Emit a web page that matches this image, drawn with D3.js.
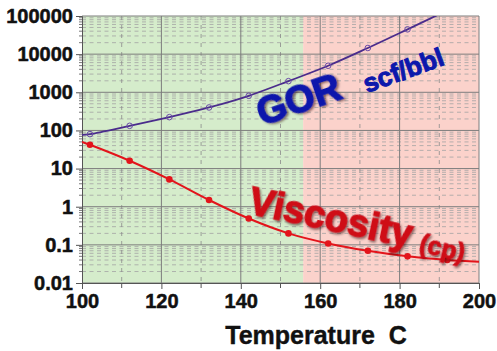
<!DOCTYPE html>
<html>
<head>
<meta charset="utf-8">
<script src="https://cdn.jsdelivr.net/npm/d3@7/dist/d3.min.js"></script>
<style>
  html, body { margin: 0; padding: 0; background: #fff; }
  svg { display: block; }
  text { font-family: "Liberation Sans", Arial, sans-serif; font-weight: bold; }
</style>
</head>
<body>
<svg id="chart" width="497" height="351"></svg>
<script>
// Temperatures (C) where the fitted curves are sampled; the end samples carry no marker
const curveTemps = [100, 102, 112, 122, 132, 142, 152, 162, 172, 182, 192, 200];
const markerTemps = [102, 112, 122, 132, 142, 152, 162, 172, 182, 192];

// Gas-oil ratio, scf/bbl
const gorValues = [76, 80, 132, 223, 400, 810, 1960, 4960, 14500, 44700, 140000];
// Viscosity, cp
const viscValues = [50, 42, 16, 5.2, 1.5, 0.49, 0.20, 0.109, 0.070, 0.050, 0.040, 0.036];

// Axis ticks
const xTicks = [100, 120, 140, 160, 180, 200];
const xMinorTicks = [110, 130, 150, 170, 190];
const yTicks = [0.01, 0.1, 1, 10, 100, 1000, 10000, 100000];
const yTickLabels = ["0.01", "0.1", "1", "10", "100", "1000", "10000", "100000"];

// Temperature windows shaded behind the curves
const zoneStarts = [100, 155.7];
const zoneEnds = [155.7, 200];
const zoneColors = ["#d5eccb", "#fbd2cb"];

const svg = d3.select("#chart");
const plotLeft = 82, plotRight = 479, plotTop = 16, plotBottom = 283;

const x = d3.scaleLinear().domain([100, 200]).range([plotLeft, plotRight]);
const y = d3.scaleLog().domain([0.01, 100000]).range([plotBottom, plotTop]);

const defs = svg.append("defs");
defs.append("clipPath").attr("id", "plot-clip")
  .append("rect").attr("x", plotLeft).attr("y", plotTop)
  .attr("width", plotRight - plotLeft).attr("height", plotBottom - plotTop);
const shadow = defs.append("filter").attr("id", "shadow")
  .attr("x", "-10%").attr("y", "-20%").attr("width", "130%").attr("height", "150%");
shadow.append("feDropShadow").attr("dx", 1.6).attr("dy", 1.6)
  .attr("stdDeviation", 0.9).attr("flood-color", "#2a0000").attr("flood-opacity", 0.55);

// shaded zones
svg.append("g").selectAll("rect").data(zoneStarts).join("rect")
  .attr("x", d => x(d))
  .attr("y", plotTop)
  .attr("width", (d, i) => x(zoneEnds[i]) - x(d))
  .attr("height", plotBottom - plotTop)
  .attr("fill", (d, i) => zoneColors[i]);

// minor horizontal grid: 2..9 within each decade
const minorY = [];
yTicks.slice(0, -1).forEach(base => {
  for (let k = 2; k <= 9; k++) minorY.push(base * k);
});
const grid = svg.append("g");
grid.selectAll("line.hminor").data(minorY).join("line")
  .attr("class", "hminor")
  .attr("x1", plotLeft).attr("x2", plotRight)
  .attr("y1", d => y(d)).attr("y2", d => y(d))
  .attr("stroke", "#a3a3a3").attr("stroke-width", 0.8)
  .attr("stroke-dasharray", "4,3.5");

grid.selectAll("line.vminor").data(xMinorTicks).join("line")
  .attr("class", "vminor")
  .attr("x1", d => x(d)).attr("x2", d => x(d))
  .attr("y1", plotTop).attr("y2", plotBottom)
  .attr("stroke", "#8a8a8a").attr("stroke-width", 0.8)
  .attr("stroke-dasharray", "4,5");

grid.selectAll("line.hmajor").data(yTicks).join("line")
  .attr("class", "hmajor")
  .attr("x1", plotLeft).attr("x2", plotRight)
  .attr("y1", d => y(d)).attr("y2", d => y(d))
  .attr("stroke", "#7d7d7d").attr("stroke-width", 1);

grid.selectAll("line.vmajor").data(xTicks.slice(1)).join("line")
  .attr("class", "vmajor")
  .attr("x1", d => x(d)).attr("x2", d => x(d))
  .attr("y1", plotTop).attr("y2", plotBottom)
  .attr("stroke", "#7d7d7d").attr("stroke-width", 1);

// axes
const yAxis = d3.axisLeft(y).tickValues(yTicks)
  .tickFormat((d, i) => yTickLabels[i]).tickSize(6).tickPadding(3);
const gy = svg.append("g").attr("transform", `translate(${plotLeft},0)`).call(yAxis);
gy.selectAll("text").attr("font-size", 20).attr("fill", "#111")
  .attr("stroke", "#111").attr("stroke-width", 0.5)
  .style("font-family", "'Liberation Sans', Arial, sans-serif").style("font-weight", "bold");
gy.select(".domain").attr("stroke", "#555");
gy.selectAll(".tick line").attr("stroke", "#555");
svg.append("g").selectAll("line").data(minorY).join("line")
  .attr("x1", plotLeft - 3).attr("x2", plotLeft)
  .attr("y1", d => y(d)).attr("y2", d => y(d))
  .attr("stroke", "#555").attr("stroke-width", 0.8);

const xAxis = d3.axisBottom(x).tickValues(xTicks).tickFormat(d3.format("d"))
  .tickSize(6).tickPadding(5);
const gx = svg.append("g").attr("transform", `translate(0,${plotBottom})`).call(xAxis);
gx.selectAll("text").attr("font-size", 20).attr("fill", "#111")
  .attr("stroke", "#111").attr("stroke-width", 0.5)
  .style("font-family", "'Liberation Sans', Arial, sans-serif").style("font-weight", "bold");
gx.select(".domain").attr("stroke", "#555");
gx.selectAll(".tick line").attr("stroke", "#555");
svg.append("g").selectAll("line").data(xMinorTicks).join("line")
  .attr("x1", d => x(d)).attr("x2", d => x(d))
  .attr("y1", plotBottom).attr("y2", plotBottom + 5)
  .attr("stroke", "#555");

// curves
const plot = svg.append("g").attr("clip-path", "url(#plot-clip)");
const line = d3.line().x(d => x(d[0])).y(d => y(d[1])).curve(d3.curveCatmullRom.alpha(0.5));

const gorPts = gorValues.map((v, i) => [curveTemps[i], v]);
const viscPts = viscValues.map((v, i) => [curveTemps[i], v]);

plot.append("path").datum(gorPts).attr("d", line)
  .attr("fill", "none").attr("stroke", "#4a2c8c").attr("stroke-width", 1.8);
plot.append("path").datum(viscPts).attr("d", line)
  .attr("fill", "none").attr("stroke", "#e3141b").attr("stroke-width", 2);

const gorMarks = gorPts.filter(p => markerTemps.includes(p[0]));
const viscMarks = viscPts.filter(p => markerTemps.includes(p[0]));

plot.selectAll("circle.gor").data(gorMarks).join("circle")
  .attr("class", "gor")
  .attr("cx", d => x(d[0])).attr("cy", d => y(d[1])).attr("r", 2.8)
  .attr("fill", "none").attr("stroke", "#6a4aa8").attr("stroke-width", 1);
plot.selectAll("circle.visc").data(viscMarks).join("circle")
  .attr("class", "visc")
  .attr("cx", d => x(d[0])).attr("cy", d => y(d[1])).attr("r", 3.3)
  .attr("fill", "#e3141b");

// curve labels
const blue = "#0c18ac", red = "#cf0a18";
svg.append("text").attr("transform", "translate(262,126) rotate(-19)")
  .attr("font-size", 38).attr("fill", blue).attr("stroke", blue).attr("stroke-width", 1.4)
  .attr("filter", "url(#shadow)")
  .text("GOR");
svg.append("text").attr("transform", "translate(367,93) rotate(-20)")
  .attr("font-size", 26).attr("fill", blue).attr("stroke", blue).attr("stroke-width", 1)
  .text("scf/bbl");
svg.append("text").attr("transform", "translate(247,213) rotate(12)")
  .attr("font-size", 38).attr("fill", red).attr("stroke", red).attr("stroke-width", 1.3)
  .attr("filter", "url(#shadow)")
  .text("Viscosity");
svg.append("text").attr("transform", "translate(418,251) rotate(14)")
  .attr("font-size", 25).attr("fill", red).attr("stroke", red).attr("stroke-width", 0.8)
  .attr("filter", "url(#shadow)")
  .text("(cp)");

// axis title
svg.append("text").attr("x", 316).attr("y", 344).attr("text-anchor", "middle")
  .attr("font-size", 25).attr("fill", "#111").attr("stroke", "#111").attr("stroke-width", 0.4)
  .style("white-space", "pre")
  .text("Temperature  C");
</script>
</body>
</html>
